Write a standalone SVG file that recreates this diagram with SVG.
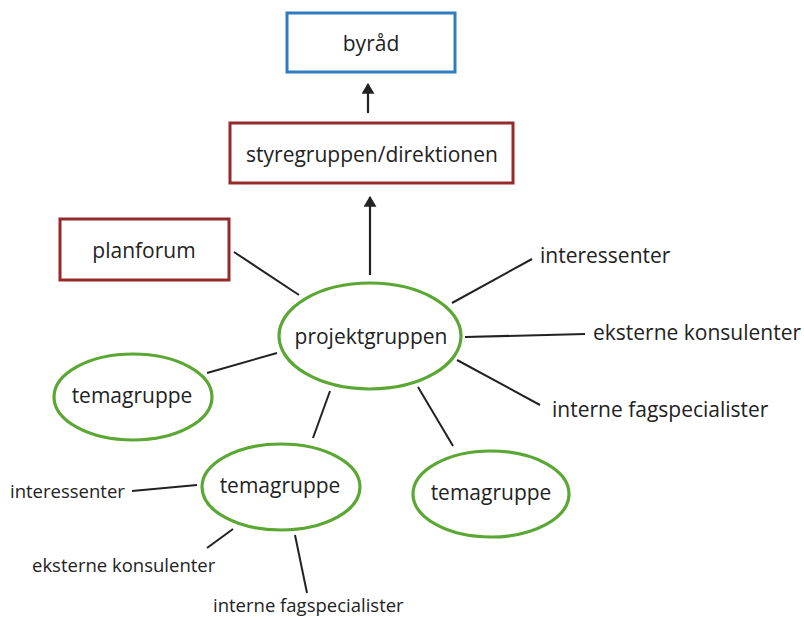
<svg xmlns="http://www.w3.org/2000/svg" width="804" height="617" viewBox="0 0 804 617">
<defs>
<style>
text{font-family:"Open Sans","Liberation Sans",sans-serif;font-size:21px;fill:#222}
.c{text-anchor:middle}
.s{font-size:18.5px}
.blue{fill:#fff;stroke:#2f7cc2;stroke-width:3}
.red{fill:#fff;stroke:#962a2a;stroke-width:3}
.ell{fill:#fff;stroke:#5aa833;stroke-width:3.2}
.ln{stroke:#222;stroke-width:2;fill:none}
</style>
<marker id="ah" viewBox="0 0 10 12" refX="9" refY="6" markerWidth="11" markerHeight="13" markerUnits="userSpaceOnUse" orient="auto">
<path d="M0,0 L10,6 L0,12 z" fill="#222"/>
</marker>
</defs>
<rect width="804" height="617" fill="#fff"/>
<g id="connectors">
<line class="ln" x1="368" y1="113" x2="368" y2="84" marker-end="url(#ah)" style="stroke-width:2.2"/>
<line class="ln" x1="370" y1="275" x2="370" y2="197" marker-end="url(#ah)" style="stroke-width:2.2"/>
<line class="ln" x1="234" y1="252" x2="299" y2="295"/>
<line class="ln" x1="207" y1="373" x2="277" y2="353"/>
<line class="ln" x1="330" y1="391" x2="313" y2="438"/>
<line class="ln" x1="418" y1="387" x2="453" y2="446"/>
<line class="ln" x1="452" y1="303" x2="532" y2="259"/>
<line class="ln" x1="465" y1="337" x2="585" y2="334"/>
<line class="ln" x1="457" y1="360" x2="540" y2="405"/>
<line class="ln" x1="132" y1="491" x2="197" y2="485"/>
<line class="ln" x1="207" y1="548" x2="233" y2="529"/>
<line class="ln" x1="295" y1="535" x2="307" y2="593"/>
</g>
<g id="byraad">
<rect class="blue" x="287" y="13" width="168" height="59"/>
<text class="c" x="371" y="51">byråd</text>
</g>
<g id="styregruppen">
<rect class="red" x="230" y="123" width="283" height="60"/>
<text class="c" x="372" y="162">styregruppen/direktionen</text>
</g>
<g id="planforum">
<rect class="red" x="60" y="219" width="169" height="61"/>
<text class="c" x="144" y="258">planforum</text>
</g>
<g id="projektgruppen">
<ellipse class="ell" cx="370" cy="336" rx="91" ry="53"/>
<text class="c" x="371" y="344">projektgruppen</text>
</g>
<g id="temagruppe-left">
<ellipse class="ell" cx="133" cy="397" rx="79" ry="43"/>
<text class="c" x="132" y="403">temagruppe</text>
</g>
<g id="temagruppe-middle">
<ellipse class="ell" cx="281" cy="487" rx="79" ry="43"/>
<text class="c" x="280" y="493">temagruppe</text>
</g>
<g id="temagruppe-right">
<ellipse class="ell" cx="491" cy="494" rx="78" ry="43"/>
<text class="c" x="491" y="500">temagruppe</text>
</g>
<g id="labels">
<text x="540" y="263">interessenter</text>
<text x="593" y="340">eksterne konsulenter</text>
<text x="552" y="417">interne fagspecialister</text>
<text class="s" x="10" y="498">interessenter</text>
<text class="s" x="32" y="572">eksterne konsulenter</text>
<text class="s" x="213" y="612">interne fagspecialister</text>
</g>
</svg>
